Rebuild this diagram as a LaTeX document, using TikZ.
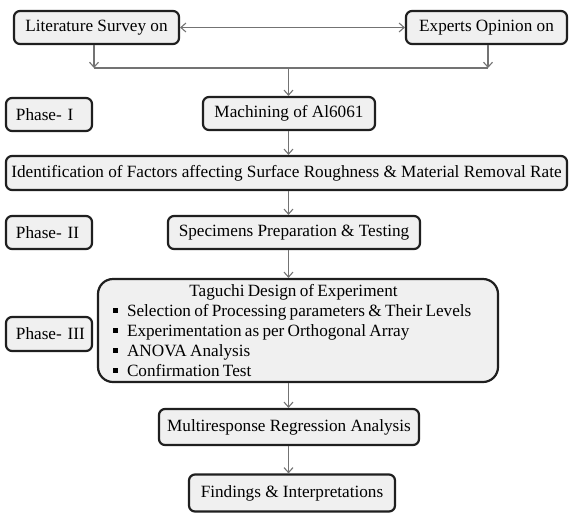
\documentclass[tikz,border=0pt]{standalone}
\usepackage{fontspec}
\setmainfont{Liberation Serif}
\usepackage{tikz}
\usetikzlibrary{arrows.meta}
\usetikzlibrary{positioning}

\begin{document}
\begin{tikzpicture}[x=1pt,y=-1pt]
			\tikzset{box/.style = {shape=rectangle,draw=black!88,fill=black!6,
					line width=2.2pt,rounded corners=6pt,minimum height=34pt,
					inner sep = 0pt,font=\fontsize{17.2}{20}\selectfont}}
			\tikzset{phasebox/.style = {box,minimum width=86pt,text width=66pt,
					inner xsep=10pt,align=left}}
			\tikzset{edge/.style = {-{Straight Barb[length=5pt,width=9pt]},
					draw=black!55, line width=1.1pt}}
			\tikzset{edgebi/.style = {{Straight Barb[length=5pt,width=9pt]}-{Straight Barb[length=5pt,width=9pt]},
					draw=black!55, line width=1.1pt}}
			\tikzset{joint/.style = {draw=black!55, line width=1.1pt}}
			\newcommand{\sqbul}{\raisebox{3.5pt}{\rule{5pt}{5pt}}\hspace{9pt}}
			
			\useasboundingbox (0,0) rectangle (569,515);
			
			% vertices
			\node[box, minimum width=165pt, minimum height=33pt] (lit) at (96.5,27.5) {Literature Survey on};
			\node[box, minimum width=161pt, minimum height=33pt] (exp) at (486.5,27.5) {Experts Opinion on};
			
			\node[phasebox, minimum height=33pt] (ph1) at (49,114.5) {\mbox{Phase- I}};
			\node[box, minimum width=172pt, minimum height=33pt] (mach) at (289,113.5) {Machining of Al6061};
			
			\node[box, minimum width=561pt] (ident) at (286.5,173) {Identification of Factors affecting Surface Roughness \& Material Removal Rate};
			
			\node[phasebox, minimum height=33pt] (ph2) at (49,232.5) {\mbox{Phase- II}};
			\node[box, minimum width=252pt, minimum height=33pt] (spec) at (294,232.5) {Specimens Preparation \& Testing};
			
			\node[box, rounded corners=15pt, minimum width=400pt, minimum height=103pt,
				text width=370pt, align=left] (tag) at (298,330.5)
				{\spaceskip=0.19em plus 0.05em
				\makebox[361pt][c]{Taguchi Design of Experiment}\\
				\mbox{\sqbul Selection of Processing parameters \& Their Levels}\\
				\mbox{\sqbul Experimentation as per Orthogonal Array}\\
				\mbox{\sqbul ANOVA Analysis}\\
				\mbox{\sqbul Confirmation Test}};
			\node[phasebox] (ph3) at (49,334) {\mbox{Phase- III}};
			
			\node[box, minimum width=260pt, minimum height=36pt] (multi) at (289,427) {Multiresponse Regression Analysis};
			\node[box, minimum width=206pt, minimum height=37pt] (find) at (292,493) {Findings \& Interpretations};
			
			\coordinate (jl) at (94,68);
			\coordinate (jr) at (488,68);
			\coordinate (spine) at (288.5,68);
			
			%edges
			\draw[edgebi] (lit) to (exp);
			\draw[edge] (jl |- lit.south) to (jl);
			\draw[edge] (jr |- exp.south) to (jr);
			\draw[joint] (jl) to (jr);
			\draw[edge] (spine) to (spine |- mach.north);
			\draw[edge] (spine |- mach.south) to (spine |- ident.north);
			\draw[edge] (spine |- ident.south) to (spine |- spec.north);
			\draw[edge] (spine |- spec.south) to (spine |- tag.north);
			\draw[edge] (spine |- tag.south) to (spine |- multi.north);
			\draw[edge] (spine |- multi.south) to (spine |- find.north);
			
\end{tikzpicture}
\end{document}
